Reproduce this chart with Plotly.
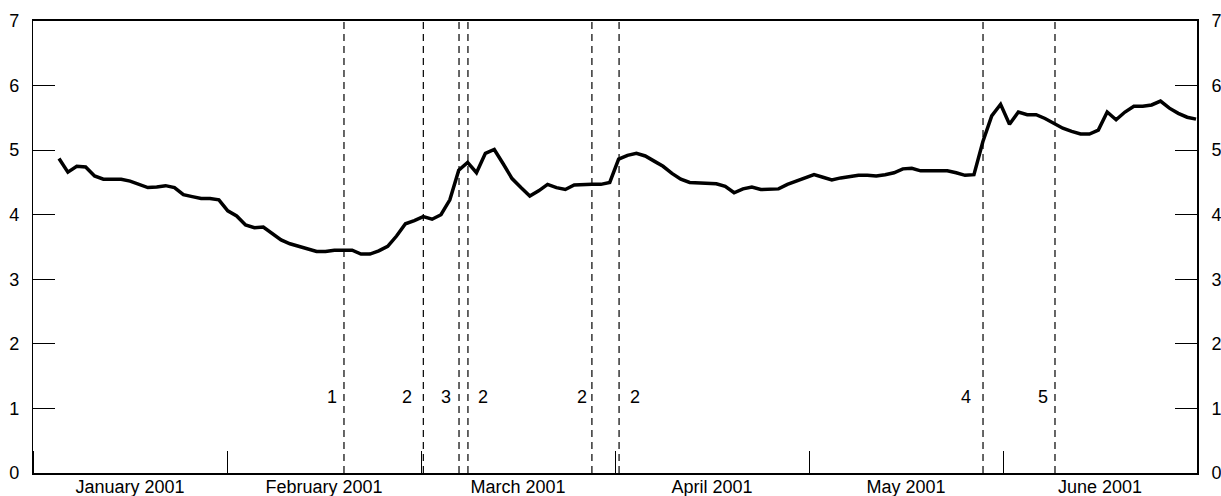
import numpy as np
import plotly.graph_objects as go

# ---- data ----
months = ["January 2001", "February 2001", "March 2001", "April 2001", "May 2001", "June 2001"]

series_values = [
    4.87, 4.66, 4.75, 4.74, 4.60, 4.55, 4.55, 4.55, 4.52, 4.47,
    4.42, 4.43, 4.45, 4.42, 4.31, 4.28, 4.25, 4.25, 4.23, 4.06,
    3.98, 3.84, 3.80, 3.81, 3.71, 3.61, 3.55, 3.51, 3.47, 3.43,
    3.43, 3.45, 3.45, 3.45, 3.39, 3.39, 3.44, 3.51, 3.67, 3.86,
    3.91, 3.97, 3.93, 4.00, 4.23, 4.69, 4.81, 4.65, 4.95, 5.01,
    4.79, 4.56, 4.42, 4.29, 4.37, 4.47, 4.42, 4.39, 4.46, 4.47,
    4.47, 4.47, 4.50, 4.86, 4.92, 4.95, 4.91, 4.83, 4.75, 4.64,
    4.55, 4.50, 4.49, 4.49, 4.48, 4.44, 4.34, 4.40, 4.43, 4.39,
    4.40, 4.40, 4.47, 4.52, 4.57, 4.62, 4.58, 4.54, 4.57, 4.59,
    4.61, 4.61, 4.60, 4.62, 4.65, 4.71, 4.72, 4.68, 4.68, 4.68,
    4.68, 4.65, 4.61, 4.62, 5.13, 5.53, 5.71, 5.40, 5.59, 5.55,
    5.55, 5.49, 5.41, 5.34, 5.29, 5.25, 5.25, 5.31, 5.59, 5.47,
    5.59, 5.68, 5.68, 5.70, 5.76, 5.65, 5.57, 5.51, 5.48,
]
# series spans from early January to the end of June (in months since 1 Jan 2001)
series_start = 0.134
series_end = 5.995

event_positions = [1.603, 2.012, 2.196, 2.242, 2.881, 3.021, 4.897, 5.268]
event_labels = ["1", "2", "3", "2", "2", "2", "4", "5"]
event_label_positions = [1.541, 1.930, 2.129, 2.320, 2.828, 3.103, 4.809, 5.206]
event_label_level = 1.17

y_ticks = [0, 1, 2, 3, 4, 5, 6, 7]

# ---- figure ----
FONT = dict(family="Arial, Liberation Sans, sans-serif", size=18, color="black")

x_series = np.linspace(series_start, series_end, len(series_values))

fig = go.Figure()

for ex in event_positions:
    fig.add_shape(type="line", xref="x", yref="y", x0=ex, x1=ex, y0=0, y1=7,
                  line=dict(color="black", width=1.2, dash="7px,5px"), layer="below")

fig.add_trace(go.Scatter(x=x_series, y=series_values, mode="lines",
                         line=dict(color="black", width=3.5), showlegend=False,
                         hoverinfo="skip"))
# invisible trace so the right-hand axis is drawn
fig.add_trace(go.Scatter(x=[0, 6], y=[0, 7], yaxis="y2", mode="lines",
                         line=dict(width=0), opacity=0, showlegend=False,
                         hoverinfo="skip"))

for lx, lt in zip(event_label_positions, event_labels):
    fig.add_annotation(x=lx, y=event_label_level, text=lt, showarrow=False,
                       font=FONT, xanchor="center", yanchor="middle")

month_centers = [i + 0.5 for i in range(len(months))]

fig.update_layout(
    width=1221, height=496,
    margin=dict(l=33, r=24, t=21, b=23, autoexpand=False),
    paper_bgcolor="white", plot_bgcolor="white",
    font=FONT,
    xaxis=dict(range=[0, 6], tickvals=month_centers, ticktext=months,
               ticks="", showgrid=False, zeroline=False, automargin=False,
               showline=True, linecolor="black", linewidth=1.6, mirror=True,
               tickfont=FONT, ticklabelstandoff=-3,
               minor=dict(tick0=0, dtick=1, ticks="inside", ticklen=22,
                          tickwidth=1.3, tickcolor="black", showgrid=False)),
    yaxis=dict(range=[0, 7], tickvals=y_ticks, ticks="inside", ticklen=22,
               tickwidth=1.3, tickcolor="black", showgrid=False, zeroline=False,
               showline=True, linecolor="black", linewidth=1.3, automargin=False,
               tickfont=FONT, ticklabelstandoff=9),
    yaxis2=dict(range=[0, 7], tickvals=y_ticks, ticks="inside", ticklen=22,
                tickwidth=1.3, tickcolor="black", showgrid=False, zeroline=False,
                showline=True, linecolor="black", linewidth=1.6, automargin=False,
                overlaying="y", side="right", tickfont=FONT, ticklabelstandoff=9),
)

fig.write_html("out.html", config={"displayModeBar": False},
               post_script="document.body.style.margin='0';document.body.style.overflow='hidden';")
